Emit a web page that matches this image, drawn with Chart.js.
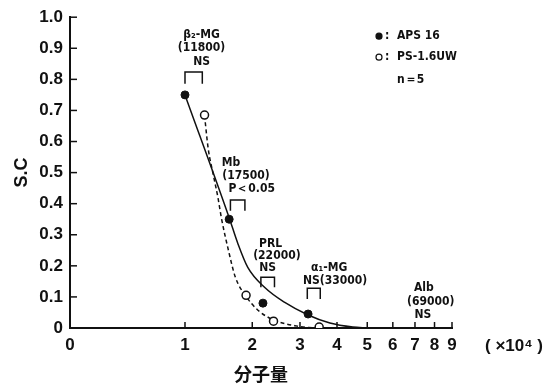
<html>
<head>
<script src="https://cdn.jsdelivr.net/npm/chart.js"></script>
<style>
  body { margin: 0; background: #fff; }
</style>
</head>
<body>
<canvas id="chart" width="547" height="385"></canvas>
<script>
// molecular weight in units of 10^4, the axis is drawn as log(1 + x)
const xTickValues = [0, 1, 2, 3, 4, 5, 6, 7, 8, 9];

// measured points
const apsX = [1.0, 1.61, 2.2, 3.2];
const apsY = [0.75, 0.35, 0.08, 0.045];
const psX = [1.25, 1.89, 2.41, 3.49];
const psY = [0.685, 0.105, 0.022, 0.003];

// fitted curves
const apsCurveX = [1.0, 1.61, 1.75, 1.92, 2.23, 2.64, 3.2, 3.79, 4.5, 5.0];
const apsCurveY = [0.75, 0.355, 0.272, 0.195, 0.131, 0.083, 0.042, 0.016, 0.003, 0];
const psCurveX = [1.25, 1.30, 1.37, 1.44, 1.49, 1.60, 1.71, 1.89, 2.10, 2.41, 2.94, 3.36];
const psCurveY = [0.684, 0.578, 0.495, 0.419, 0.355, 0.249, 0.163, 0.102, 0.058, 0.026, 0.006, 0];

// significance brackets
const bracketLeft = [1.0, 1.63, 2.16, 3.18];
const bracketRight = [1.22, 1.87, 2.43, 3.52];
const bracketTop = [0.824, 0.412, 0.163, 0.128];
const bracketBottom = [0.786, 0.377, 0.131, 0.093];

// protein notes
const noteText = ['β₂-MG', '(11800)', 'NS',
                  'Mb', '(17500)', 'P＜0.05',
                  'PRL', '(22000)', 'NS',
                  'α₁-MG', 'NS(33000)',
                  'Alb', '(69000)', 'NS'];
const noteX = [1.21, 1.21, 1.21,
               1.64, 1.89, 1.99,
               2.35, 2.48, 2.29,
               3.77, 3.94,
               7.44, 7.80, 7.39];
const noteY = [0.942, 0.901, 0.856,
               0.530, 0.489, 0.447,
               0.272, 0.233, 0.192,
               0.195, 0.153,
               0.128, 0.083, 0.042];

const toAxis = v => v + 1;
const pts = (xs, ys) => xs.map((x, i) => ({ x: toAxis(x), y: ys[i] }));

const bracketPts = [];
bracketLeft.forEach((l, i) => {
    bracketPts.push({ x: toAxis(l), y: bracketBottom[i] });
    bracketPts.push({ x: toAxis(l), y: bracketTop[i] });
    bracketPts.push({ x: toAxis(bracketRight[i]), y: bracketTop[i] });
    bracketPts.push({ x: toAxis(bracketRight[i]), y: bracketBottom[i] });
    bracketPts.push({ x: toAxis(bracketRight[i]), y: null });
});

const numFont = "'Liberation Sans', Arial, sans-serif";
const noteFont = "'DejaVu Sans Condensed', sans-serif";

const extras = {
    id: 'extras',
    beforeDraw(chart) {
        const c = chart.ctx;
        c.save();
        c.fillStyle = '#fff';
        c.fillRect(0, 0, chart.width, chart.height);
        c.restore();
    },
    afterDraw(chart) {
        const c = chart.ctx;
        const xs = chart.scales.x, ys = chart.scales.y;
        const area = chart.chartArea;
        c.save();
        // inward tick marks
        c.strokeStyle = '#111';
        c.lineWidth = 1.5;
        xTickValues.slice(1).forEach(v => {
            const px = xs.getPixelForValue(toAxis(v));
            c.beginPath();
            c.moveTo(px, area.bottom);
            c.lineTo(px, area.bottom - 6);
            c.stroke();
        });
        for (let k = 1; k <= 10; k++) {
            const py = ys.getPixelForValue(k / 10);
            c.beginPath();
            c.moveTo(area.left, py);
            c.lineTo(area.left + 7, py);
            c.stroke();
        }
        // notes
        c.fillStyle = '#111';
        c.font = 'bold 12px ' + noteFont;
        c.textAlign = 'center';
        c.textBaseline = 'middle';
        noteText.forEach((t, i) => {
            c.fillText(t, xs.getPixelForValue(toAxis(noteX[i])), ys.getPixelForValue(noteY[i]));
        });
        // legend
        const lx = area.right - 73, ly = area.top + 19;
        c.font = 'bold 12px ' + noteFont;
        chart.data.datasets.slice(0, 2).forEach((ds, i) => {
            const y = ly + i * 21;
            c.beginPath();
            c.arc(lx, y, 3, 0, Math.PI * 2);
            c.fillStyle = ds.pointBackgroundColor;
            c.fill();
            c.lineWidth = 1.2;
            c.strokeStyle = '#111';
            c.stroke();
            c.fillStyle = '#111';
            c.textAlign = 'left';
            c.fillText(':', lx + 6, y);
            c.fillText(ds.label, lx + 18, y);
        });
        c.fillText('n＝5', lx + 18, ly + 44);
        // unit
        c.font = 'bold 17px ' + numFont;
        c.textAlign = 'center';
        c.fillText('( ×10⁴ )', area.right + 62, area.bottom + 18);
        c.restore();
    }
};

new Chart(document.getElementById('chart'), {
    type: 'scatter',
    data: {
        datasets: [
            {
                label: 'APS 16',
                data: pts(apsX, apsY),
                pointRadius: 4,
                pointBackgroundColor: '#111',
                pointBorderColor: '#111',
                pointBorderWidth: 1
            },
            {
                label: 'PS-1.6UW',
                data: pts(psX, psY),
                pointRadius: 4,
                pointBackgroundColor: '#fff',
                pointBorderColor: '#111',
                pointBorderWidth: 1.5
            },
            {
                label: 'APS 16 fit',
                data: pts(apsCurveX, apsCurveY),
                showLine: true,
                pointRadius: 0,
                borderColor: '#111',
                borderWidth: 1.5,
                cubicInterpolationMode: 'monotone'
            },
            {
                label: 'PS-1.6UW fit',
                data: pts(psCurveX, psCurveY),
                showLine: true,
                pointRadius: 0,
                borderColor: '#111',
                borderWidth: 1.5,
                borderDash: [4, 3],
                cubicInterpolationMode: 'monotone'
            },
            {
                label: 'brackets',
                data: bracketPts,
                showLine: true,
                spanGaps: false,
                pointRadius: 0,
                borderColor: '#111',
                borderWidth: 1.5
            }
        ]
    },
    options: {
        responsive: false,
        animation: false,
        layout: { padding: { left: 0, right: 95, top: 15, bottom: 0 } },
        scales: {
            x: {
                type: 'logarithmic',
                min: toAxis(0),
                max: toAxis(9),
                afterBuildTicks: s => { s.ticks = xTickValues.map(v => ({ value: toAxis(v) })); },
                afterFit: s => { s.height = 57; },
                grid: { display: false, drawTicks: false },
                border: { color: '#111', width: 2 },
                ticks: {
                    autoSkip: false,
                    maxRotation: 0,
                    padding: 7,
                    color: '#111',
                    font: { family: numFont, size: 17, weight: 'bold' },
                    callback: v => String(Math.round(v - 1))
                },
                title: {
                    display: true,
                    text: '分子量',
                    color: '#111',
                    padding: 0,
                    font: { family: "'Noto Sans CJK JP', sans-serif", size: 18, weight: 'bold' }
                }
            },
            y: {
                min: 0,
                max: 1,
                afterFit: s => { s.width = 70; },
                grid: { display: false, drawTicks: false },
                border: { color: '#111', width: 2 },
                ticks: {
                    stepSize: 0.1,
                    padding: 7,
                    color: '#111',
                    font: { family: numFont, size: 17, weight: 'bold' },
                    callback: v => v === 0 ? '0' : v.toFixed(1)
                },
                title: {
                    display: true,
                    text: 'S.C',
                    color: '#111',
                    padding: { top: 11, bottom: 0 },
                    font: { family: numFont, size: 18, weight: 'bold' }
                }
            }
        },
        plugins: {
            legend: { display: false },
            tooltip: { enabled: false }
        }
    },
    plugins: [extras]
});
</script>
</body>
</html>
